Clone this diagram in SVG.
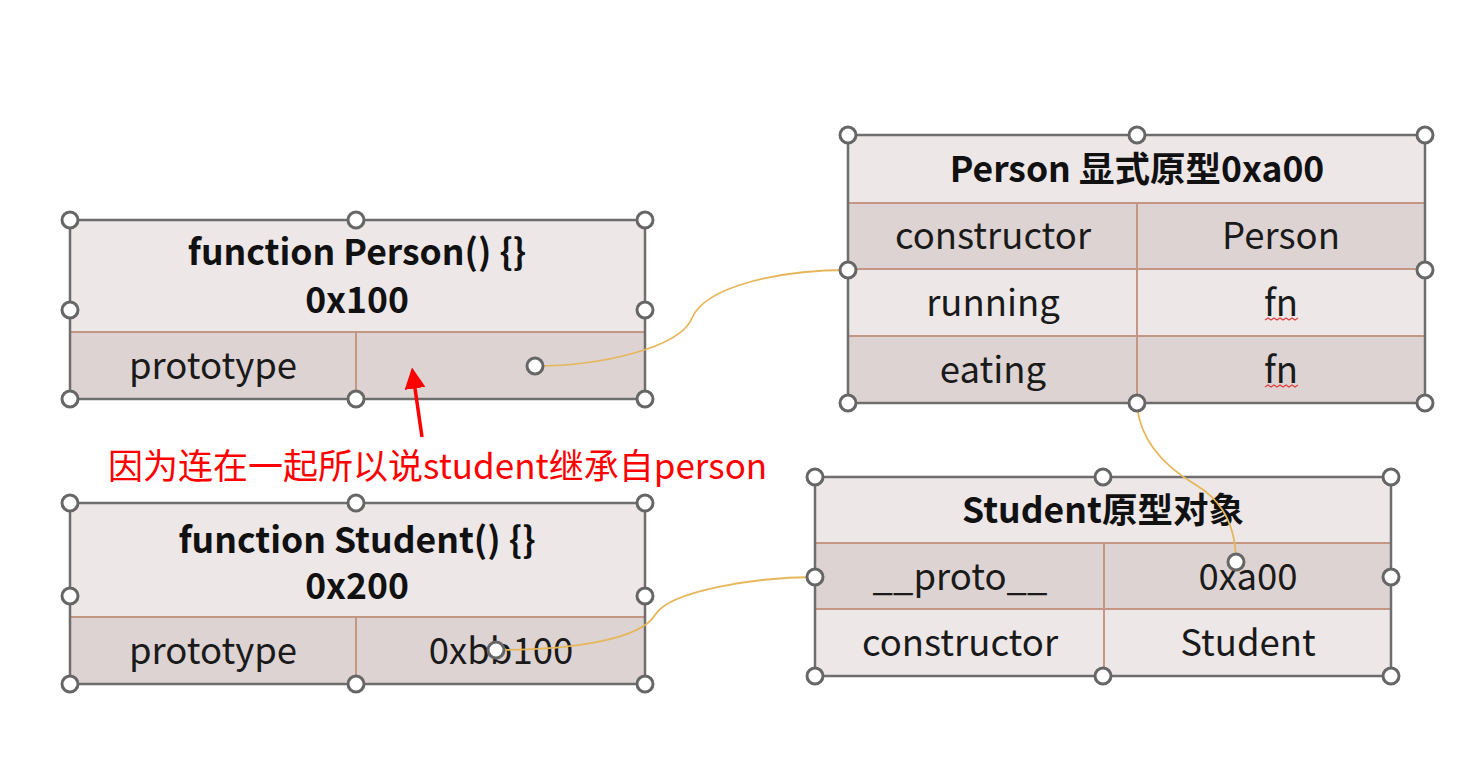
<svg xmlns="http://www.w3.org/2000/svg" width="1472" height="760" viewBox="0 0 1472 760">
<style>
.lt{fill:#ede7e7}
.dk{fill:#ddd3d2}
.in{stroke:#c49684;stroke-width:2;fill:none}
.out{fill:none;stroke:#6e6e6e;stroke-width:2.5}
.h{fill:#fff;stroke:#666;stroke-width:3}
.t{font-family:"Noto Sans CJK SC","Noto Sans",sans-serif;font-size:36.5px;fill:#1a1a1a;text-anchor:middle;dominant-baseline:central}
.b{font-weight:bold;font-size:35.5px;fill:#111}
.con{fill:none;stroke:#e6b65a;stroke-width:1.8}
.sq{fill:none;stroke:#e04040;stroke-width:1.2}
</style>
<defs>
<marker id="ra" markerWidth="6" markerHeight="6" refX="3" refY="3" orient="auto" markerUnits="strokeWidth">
<path d="M0,0 L6,3 L0,6 Z" fill="#ff0000"/>
</marker>
</defs>
<rect width="1472" height="760" fill="#fff"/>

<g id="personFn">
<rect class="lt" x="70" y="220" width="575" height="112"/>
<rect class="dk" x="70" y="332" width="575" height="67"/>
<line class="in" x1="70" y1="332" x2="645" y2="332"/>
<line class="in" x1="356" y1="332" x2="356" y2="399"/>
<rect class="out" x="70" y="220" width="575" height="179"/>
<text class="t b" x="357" y="249">function Person() {}</text>
<text class="t b" x="357" y="297">0x100</text>
<text class="t" x="213" y="363">prototype</text>
</g>

<g id="personProto">
<rect class="lt" x="848" y="135" width="577" height="68"/>
<rect class="dk" x="848" y="203" width="577" height="66"/>
<rect class="lt" x="848" y="269" width="577" height="67"/>
<rect class="dk" x="848" y="336" width="577" height="67"/>
<line class="in" x1="848" y1="203" x2="1425" y2="203"/>
<line class="in" x1="848" y1="269" x2="1425" y2="269"/>
<line class="in" x1="848" y1="336" x2="1425" y2="336"/>
<line class="in" x1="1137" y1="203" x2="1137" y2="403"/>
<rect class="out" x="848" y="135" width="577" height="268"/>
<text class="t b" x="1137" y="166">Person 显式原型0xa00</text>
<text class="t" x="993" y="233">constructor</text>
<text class="t" x="1281" y="233">Person</text>
<text class="t" x="993" y="300">running</text>
<text class="t" x="1281" y="300">fn</text>
<text class="t" x="993" y="367">eating</text>
<text class="t" x="1281" y="367">fn</text>
<path class="sq" d="M1265,320 l3,-2 l3,2 l3,-2 l3,2 l3,-2 l3,2 l3,-2 l3,2 l3,-2 l3,2 l3,-2"/>
<path class="sq" d="M1265,387 l3,-2 l3,2 l3,-2 l3,2 l3,-2 l3,2 l3,-2 l3,2 l3,-2 l3,2 l3,-2"/>
</g>

<g id="studentProto">
<rect class="lt" x="815" y="477" width="576" height="66"/>
<rect class="dk" x="815" y="543" width="576" height="66"/>
<rect class="lt" x="815" y="609" width="576" height="67"/>
<line class="in" x1="815" y1="543" x2="1391" y2="543"/>
<line class="in" x1="815" y1="609" x2="1391" y2="609"/>
<line class="in" x1="1104" y1="543" x2="1104" y2="676"/>
<rect class="out" x="815" y="477" width="576" height="199"/>
<text class="t b" x="1103" y="507">Student原型对象</text>
<text class="t" x="960" y="574">__proto__</text>
<text class="t" x="1248" y="574">0xa00</text>
<text class="t" x="960" y="640">constructor</text>
<text class="t" x="1248" y="640">Student</text>
</g>

<g id="studentFn">
<rect class="lt" x="70" y="503" width="575" height="114"/>
<rect class="dk" x="70" y="617" width="575" height="67"/>
<line class="in" x1="70" y1="617" x2="645" y2="617"/>
<line class="in" x1="356" y1="617" x2="356" y2="684"/>
<rect class="out" x="70" y="503" width="575" height="181"/>
<text class="t b" x="357" y="537">function Student() {}</text>
<text class="t b" x="357" y="583">0x200</text>
<text class="t" x="213" y="648">prototype</text>
<text class="t" x="501" y="648">0xbb100</text>
</g>

<g id="connectors">
<path class="con" d="M535,366 C600,366 680,348 692,318 C706,286 780,270 848,270"/>
<path class="con" d="M496,650 C570,650 640,640 655,615 C670,590 760,577 815,577"/>
<path class="con" d="M1236,562 C1236,520 1218,498 1196,485 C1162,465 1140,440 1137,405"/>
<line x1="422" y1="437" x2="413.5" y2="378" stroke="#ff0000" stroke-width="3.5" marker-end="url(#ra)"/>
</g>

<g id="handles">
<circle class="h" cx="70" cy="220" r="8"/><circle class="h" cx="356" cy="220" r="8"/><circle class="h" cx="645" cy="220" r="8"/>
<circle class="h" cx="70" cy="310" r="8"/><circle class="h" cx="645" cy="310" r="8"/>
<circle class="h" cx="70" cy="399" r="8"/><circle class="h" cx="356" cy="399" r="8"/><circle class="h" cx="645" cy="399" r="8"/>
<circle class="h" cx="535" cy="366" r="8"/>

<circle class="h" cx="848" cy="135" r="8"/><circle class="h" cx="1137" cy="135" r="8"/><circle class="h" cx="1425" cy="135" r="8"/>
<circle class="h" cx="848" cy="270" r="8"/><circle class="h" cx="1425" cy="270" r="8"/>
<circle class="h" cx="848" cy="403" r="8"/><circle class="h" cx="1137" cy="403" r="8"/><circle class="h" cx="1425" cy="403" r="8"/>

<circle class="h" cx="815" cy="477" r="8"/><circle class="h" cx="1103" cy="477" r="8"/><circle class="h" cx="1391" cy="477" r="8"/>
<circle class="h" cx="815" cy="577" r="8"/><circle class="h" cx="1391" cy="577" r="8"/>
<circle class="h" cx="815" cy="676" r="8"/><circle class="h" cx="1103" cy="676" r="8"/><circle class="h" cx="1391" cy="676" r="8"/>
<circle class="h" cx="1236" cy="562" r="8"/>

<circle class="h" cx="70" cy="503" r="8"/><circle class="h" cx="356" cy="503" r="8"/><circle class="h" cx="645" cy="503" r="8"/>
<circle class="h" cx="70" cy="596" r="8"/><circle class="h" cx="645" cy="596" r="8"/>
<circle class="h" cx="70" cy="684" r="8"/><circle class="h" cx="356" cy="684" r="8"/><circle class="h" cx="645" cy="684" r="8"/>
<circle class="h" cx="496" cy="650" r="8"/>
</g>

<g id="note" font-family="'Noto Sans CJK SC','Noto Sans',sans-serif" font-size="35" fill="#ff0000">
<text x="108" y="479">因为连在一起所以说<tspan>student</tspan>继承自<tspan>person</tspan></text>
</g>
</svg>
